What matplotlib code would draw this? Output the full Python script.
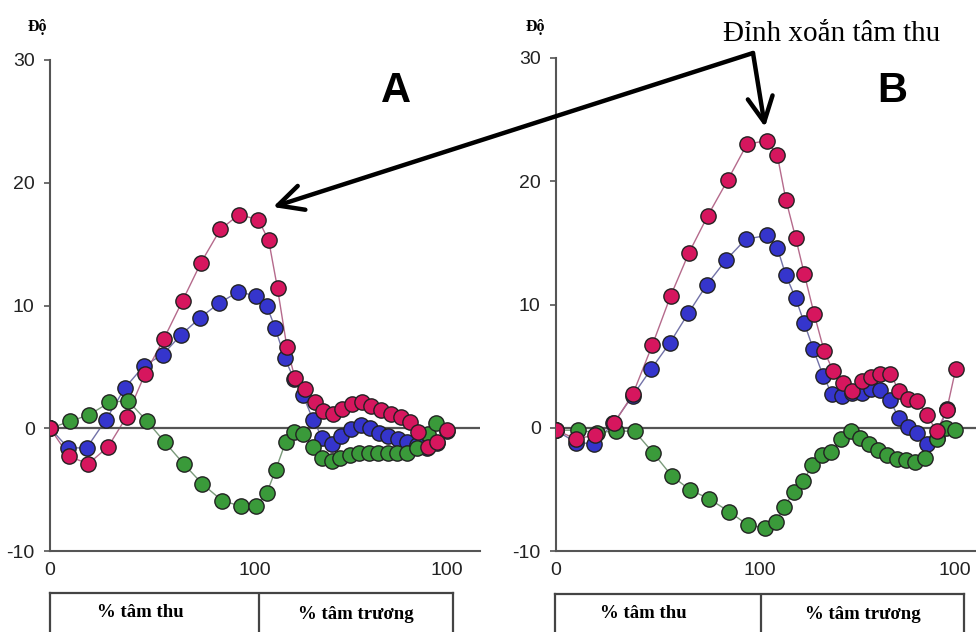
import matplotlib.pyplot as plt

plt.rcParams["axes.unicode_minus"] = False

# x is the position along the cycle axis: 0..100 = systole, 100..~195 = diastole
# (the second "100" tick).  y is the rotation in degrees.
TICKS_A = [0, 100, 193.7]
TICKS_B = [0, 100, 195.6]
TICK_LABELS = ["0", "100", "100"]
Y_TICKS = [-10, 0, 10, 20, 30]

A_RED_X = [0, 9.4, 18.7, 28.4, 37.4, 46.3, 55.6, 64.7, 73.7, 83.1, 92.2, 101.6,
           106.7, 111.0, 115.6, 119.5, 124.4, 129.5, 133.3, 138.0, 142.4, 147.3,
           152.0, 156.7, 161.6, 166.4, 171.1, 175.5, 179.7, 184.3, 188.8, 193.8]
A_RED_Y = [0, -2.3, -2.9, -1.5, 0.95, 4.4, 7.3, 10.4, 13.5, 16.2, 17.4, 17.0,
           15.3, 11.4, 6.6, 4.1, 3.2, 2.1, 1.4, 1.2, 1.6, 2.0,
           2.15, 1.85, 1.5, 1.2, 0.9, 0.5, -0.3, -1.5, -1.1, -0.15]

A_BLUE_X = [0, 8.9, 17.9, 27.3, 36.6, 45.9, 55.0, 63.9, 73.2, 82.6, 91.7, 100.7,
            105.7, 109.8, 114.6, 119.0, 123.4, 128.3, 132.9, 137.4, 142.2, 147.1,
            151.5, 156.1, 160.6, 165.0, 169.8, 174.3, 179.0, 184.0, 188.8, 193.7]
A_BLUE_Y = [0, -1.6, -1.6, 0.7, 3.3, 5.1, 6.0, 7.6, 9.0, 10.2, 11.1, 10.8,
            10.0, 8.2, 5.7, 4.0, 2.7, 0.7, -0.8, -1.3, -0.6, -0.1,
            0.25, 0.05, -0.35, -0.65, -0.9, -1.15, -1.35, -1.6, -1.2, -0.2]

A_GREEN_X = [0, 9.9, 19.2, 28.9, 38.0, 47.2, 56.1, 65.2, 74.4, 84.0, 93.2, 100.5,
             105.7, 110.1, 115.0, 119.0, 123.6, 128.4, 132.8, 137.4, 141.5, 146.3,
             150.9, 155.8, 160.1, 164.7, 169.4, 174.0, 178.9, 184.4, 188.3]
A_GREEN_Y = [0, 0.57, 1.1, 2.1, 2.25, 0.6, -1.15, -2.9, -4.55, -5.9, -6.35, -6.3,
             -5.3, -3.4, -1.1, -0.3, -0.5, -1.5, -2.4, -2.7, -2.4, -2.2,
             -2.0, -2.0, -2.0, -2.0, -2.0, -2.0, -1.6, -0.45, 0.4]

B_RED_X = [0, 9.7, 19.3, 28.6, 37.6, 47.2, 56.2, 65.2, 74.4, 84.2, 93.6, 103.3,
           108.5, 112.7, 117.5, 121.7, 126.6, 131.5, 135.9, 140.5, 144.9, 149.9,
           154.4, 158.8, 163.7, 168.2, 172.7, 177.2, 182.0, 186.6, 191.5, 196.0]
B_RED_Y = [-0.2, -0.9, -0.6, 0.4, 2.7, 6.7, 10.7, 14.2, 17.2, 20.1, 23.0, 23.3,
           22.1, 18.5, 15.4, 12.5, 9.2, 6.2, 4.6, 3.6, 2.95, 3.8,
           4.15, 4.4, 4.4, 3.0, 2.3, 2.2, 1.0, -0.3, 1.4, 4.8]

B_BLUE_X = [0, 9.7, 18.8, 28.1, 37.6, 46.6, 55.9, 64.9, 73.9, 83.3, 93.0, 103.3,
            108.5, 112.6, 117.5, 121.7, 126.1, 131.0, 135.4, 140.0, 144.9, 149.9,
            154.4, 158.8, 163.7, 168.0, 172.5, 177.2, 181.7, 186.6, 191.5]
B_BLUE_Y = [-0.2, -1.2, -1.3, 0.35, 2.6, 4.75, 6.9, 9.3, 11.6, 13.6, 15.3, 15.6,
            14.6, 12.4, 10.5, 8.5, 6.4, 4.2, 2.7, 2.6, 2.8, 2.85,
            3.15, 3.05, 2.25, 0.8, 0.05, -0.4, -1.35, -0.8, 1.5]

B_GREEN_X = [0, 10.6, 20.1, 29.6, 38.6, 47.7, 56.7, 65.8, 74.9, 84.8, 94.1, 102.5,
             107.7, 111.9, 116.6, 121.1, 125.7, 130.4, 134.9, 139.8, 144.4, 148.8,
             153.4, 158.0, 162.5, 167.0, 171.7, 176.2, 181.0, 186.6, 191.0, 195.4]
B_GREEN_Y = [-0.2, -0.2, -0.4, -0.25, -0.3, -2.05, -3.9, -5.05, -5.75, -6.8, -7.9, -8.1,
             -7.65, -6.4, -5.2, -4.35, -3.0, -2.2, -1.95, -0.95, -0.3, -0.8,
             -1.35, -1.8, -2.2, -2.5, -2.65, -2.8, -2.45, -0.9, 0.0, -0.2]

RED = "#d6165e"
BLUE = "#3535cc"
GREEN = "#3a9a3a"
LINE_COL = {RED: "#b56a8c", BLUE: "#7272a8", GREEN: "#7a9a7a"}

SANS = ["Liberation Sans", "DejaVu Sans"]
SERIF = ["Liberation Serif", "DejaVu Serif"]

W, H = 976, 632


def box(x0, y0, x1, y1):
    # pixel box (top-left origin) -> figure fraction rect
    return [x0 / W, 1 - y1 / H, (x1 - x0) / W, (y1 - y0) / H]


def draw_panel(ax, xmax, ticks, series, letter, letter_xy):
    for x, y, c in series:
        ax.plot(x, y, "-", color=LINE_COL[c], lw=1.0, zorder=2)
    for z, (x, y, c) in enumerate(series):
        ax.plot(x, y, "o", ms=11, mfc=c, mec="#222222", mew=1.0, zorder=3 + z)
    ax.axhline(0, color="#555555", lw=1.6, zorder=2.5)
    ax.set_xlim(0, xmax)
    ax.set_ylim(-10, 30)
    for s in ["top", "right"]:
        ax.spines[s].set_visible(False)
    for s in ["left", "bottom"]:
        ax.spines[s].set_color("#555555")
        ax.spines[s].set_linewidth(1.5)
    ax.spines["left"].set_bounds(-10, 30)
    ax.set_yticks(Y_TICKS)
    ax.set_xticks(ticks)
    ax.set_xticklabels(TICK_LABELS)
    ax.tick_params(axis="y", length=4, width=1.2, color="#555555", pad=7)
    ax.tick_params(axis="x", length=0, pad=8)
    for lab in ax.get_xticklabels() + ax.get_yticklabels():
        lab.set_family(SANS)
        lab.set_fontsize(14)
        lab.set_color("#222222")
    ax.text(letter_xy[0], letter_xy[1], letter, family=SANS, fontsize=30,
            fontweight="bold", ha="center", va="center")


def draw_table(rect, split):
    t = fig.add_axes(rect)
    t.set_xlim(0, 1)
    t.set_ylim(0, 1)
    t.set_xticks([])
    t.set_yticks([])
    for s in t.spines.values():
        s.set_color("#444444")
        s.set_linewidth(1.6)
    t.axvline(split, color="#444444", lw=1.6)
    t.text(split * 0.43, 0.66, "% tâm thu", family=SERIF, fontsize=13.5,
           fontweight="bold", ha="center", va="center")
    t.text(split + (1 - split) * 0.5, 0.63, "% tâm trương", family=SERIF,
           fontsize=13.5, fontweight="bold", ha="center", va="center")


fig = plt.figure(figsize=(W / 100, H / 100), dpi=100)

axA = fig.add_axes(box(50, 60, 480, 551))
draw_panel(axA, 209.8, TICKS_A,
           [(A_BLUE_X, A_BLUE_Y, BLUE), (A_GREEN_X, A_GREEN_Y, GREEN),
            (A_RED_X, A_RED_Y, RED)],
           "A", (168.8, 27.5))

axB = fig.add_axes(box(556, 58, 976, 551))
draw_panel(axB, 205.9, TICKS_B,
           [(B_BLUE_X, B_BLUE_Y, BLUE), (B_GREEN_X, B_GREEN_Y, GREEN),
            (B_RED_X, B_RED_Y, RED)],
           "B", (164.7, 27.3))

for px in (37, 535):
    fig.text(px / W, 1 - 27 / H, "Độ", family=SERIF, fontsize=11.5,
             fontweight="bold", ha="center", va="center")

fig.text(832 / W, 1 - 34 / H, "Đỉnh xoắn tâm thu", family=SERIF, fontsize=21,
         ha="center", va="center")

# arrows from the label to both systolic peaks
bend = (753, H - 53)
arrow = dict(arrowstyle="->,head_length=0.9,head_width=0.45", lw=3.2,
             color="black", mutation_scale=20, shrinkA=0, shrinkB=0)
fig.add_artist(plt.Annotation("", xy=(273, H - 207), xytext=bend,
                              xycoords="figure pixels", textcoords="figure pixels",
                              arrowprops=arrow))
fig.add_artist(plt.Annotation("", xy=(765, H - 127), xytext=bend,
                              xycoords="figure pixels", textcoords="figure pixels",
                              arrowprops=arrow))

draw_table(box(50, 593, 453, 650), 0.5186)
draw_table(box(555, 594, 964, 650), 0.5037)

fig.savefig("out.png", dpi=100)
